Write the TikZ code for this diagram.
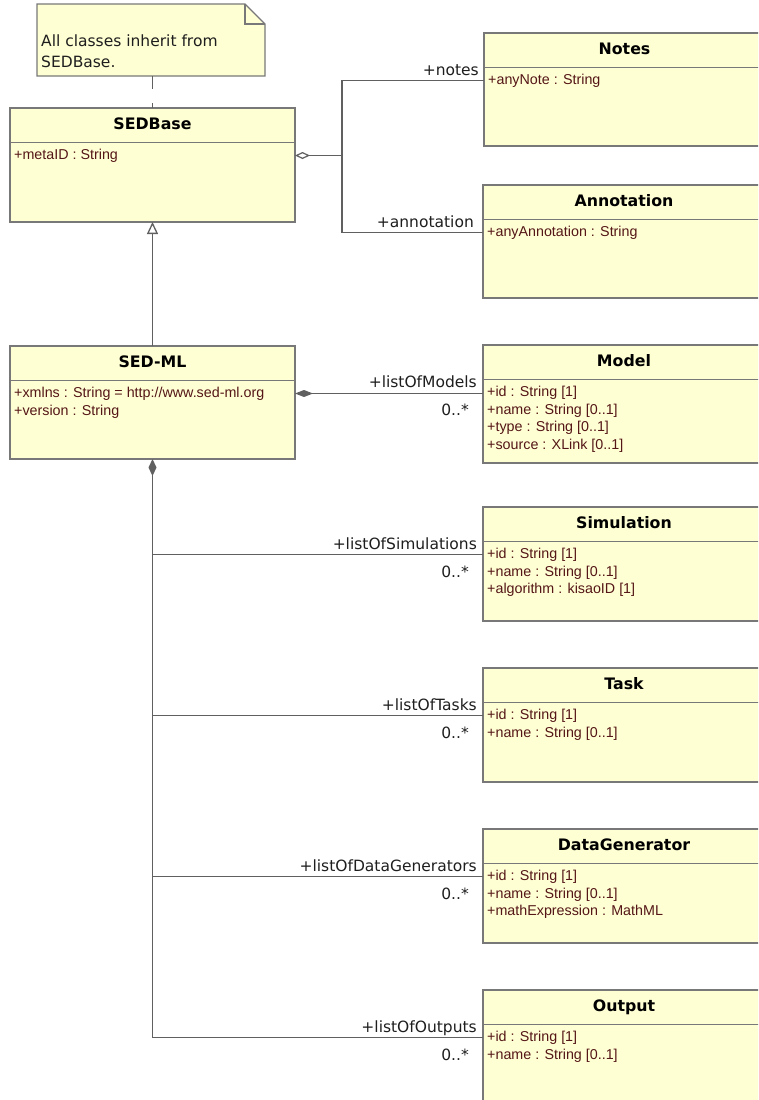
\documentclass[tikz,border=0pt]{standalone}
\usepackage{fontspec}
\setmainfont{DejaVu Sans}
\newfontfamily\attrfont{Liberation Sans}
\usetikzlibrary{arrows.meta,calc}

\definecolor{classfill}{RGB}{255,255,212}
\definecolor{classedge}{RGB}{120,120,120}
\definecolor{wire}{RGB}{96,96,96}
\definecolor{attrink}{RGB}{84,22,22}
\definecolor{labelink}{RGB}{30,30,30}

\tikzset{
  classbox/.style={draw=classedge, fill=classfill, line width=1.3pt, inner sep=0pt, outer sep=0pt},
  titletext/.style={font=\fontsize{15.8}{18}\selectfont\bfseries, inner sep=0pt, anchor=base},
  attrtext/.style={font=\attrfont\fontsize{14.3}{17.4}\selectfont, text=attrink, align=left, inner sep=0pt, anchor=north west},
  rolelabel/.style={font=\fontsize{15.5}{18}\selectfont, text=labelink, inner sep=0pt, anchor=base east},
  wireline/.style={draw=wire, line width=1.5pt},
  notetext/.style={font=\fontsize{15.5}{21}\selectfont, text=labelink, align=left, inner sep=0pt, anchor=north west},
}

% UML class: name, left, top, right, bottom, title, attributes
\newcommand{\umlclass}[7]{%
  \node[classbox, anchor=north west, minimum width={(#4-#2)*1pt}, minimum height={(#5-#3)*1pt}] (#1) at (#2,#3) {};
  \draw[classedge, line width=1.3pt] ($(#1.north west)+(0,34.5)$) -- ($(#1.north east)+(0,34.5)$);
  \node[titletext] (#1-name) at ($(#1.north)+(0,21.5)$) {#6};
  \node[attrtext] (#1-attrs) at ($(#1.north west)+(4,39.5)$) {\strut #7};
  \coordinate (#1-port) at ($(#1.north west)+(0,47.5)$);
  \coordinate (#1-eport) at ($(#1.north east)+(0,47.5)$);
}

% role name above a connector end, multiplicity below it
\newcommand{\roles}[4]{%
  \node[rolelabel] (#1-role) at ($(#2-port)+(#4,-5.5)$) {#3};
}
\newcommand{\multi}[1]{%
  \node[rolelabel] (#1-mult) at ($(#1-port)+(-14,22.5)$) {0..*};
}

\begin{document}
\begin{tikzpicture}[x=1pt,y=-1pt]
\useasboundingbox (0,0) rectangle (758,1100);
\clip (0,0) rectangle (758,1100);

% note with folded corner
\node[minimum width=228pt, minimum height=72pt, inner sep=0pt, outer sep=0pt, anchor=north west] (note) at (37,4) {};
\draw[classedge, fill=classfill, line width=1.3pt, line join=miter]
  (note.north west) -- ($(note.north east)+(-20,0)$) -- ($(note.north east)+(0,20)$)
  -- (note.south east) -- (note.south west) -- cycle;
\draw[classedge, line width=1.3pt]
  ($(note.north east)+(-20,0)$) -- ($(note.north east)+(-20,20)$) -- ($(note.north east)+(0,20)$);
\node[notetext] (note-text) at (41,31.3) {\strut All classes inherit from\\SEDBase.};

% classes
\umlclass{sedbase}{10}{108}{295}{222}{SEDBase}{+metaID : String}
\umlclass{sedml}{10}{346}{295}{459}{SED-ML}{+xmlns : String = http://www.sed-ml.org\\+version : String}
\umlclass{notes}{484}{33}{765}{146}{Notes}{+anyNote : String}
\umlclass{annotation}{483}{185}{765}{298}{Annotation}{+anyAnnotation : String}
\umlclass{model}{483}{345}{765}{463}{Model}{+id : String [1]\\+name : String [0..1]\\+type : String [0..1]\\+source : XLink [0..1]}
\umlclass{simulation}{483}{507}{765}{621}{Simulation}{+id : String [1]\\+name : String [0..1]\\+algorithm : kisaoID [1]}
\umlclass{task}{483}{668}{765}{782}{Task}{+id : String [1]\\+name : String [0..1]}
\umlclass{datagen}{483}{829}{765}{943}{DataGenerator}{+id : String [1]\\+name : String [0..1]\\+mathExpression : MathML}
\umlclass{output}{483}{990}{765}{1120}{Output}{+id : String [1]\\+name : String [0..1]}

% note anchor line
\draw[wireline, line width=1.3pt, dash pattern=on 13pt off 14pt] (sedbase.north |- note.south) -- (sedbase.north);

% generalisation SED-ML -> SEDBase
\draw[wireline, -{Triangle[length=12pt,width=11pt,fill=white,line width=1.3pt]}] (sedml.north) -- (sedbase.south);

% aggregation SEDBase -> Notes / Annotation
\coordinate (aggj) at ($(sedbase-eport)+(47,0)$);
\draw[wireline, {Diamond[length=15pt,width=7pt,fill=white,line width=1.2pt]}-] (sedbase-eport) -- (aggj);
\draw[wireline] (notes-port) -| (aggj) |- (annotation-port);
\roles{notes}{notes}{+notes}{-5}
\roles{annotation}{annotation}{+annotation}{-9}

% composition SED-ML -> Model
\draw[wireline, {Diamond[length=18pt,width=7pt]}-] (sedml-eport) -- (sedml-eport -| model.west);
\roles{model}{model}{+listOfModels}{-6}
\multi{model}

% composition SED-ML -> lists below
\coordinate (spine-end) at (sedml.south |- output-port);
\draw[wireline, {Diamond[length=17pt,width=8pt]}-] (sedml.south) -- (spine-end);
\draw[wireline] (sedml.south |- simulation-port) -- (simulation-port);
\draw[wireline] (sedml.south |- task-port) -- (task-port);
\draw[wireline] (sedml.south |- datagen-port) -- (datagen-port);
\draw[wireline] (spine-end) -- (output-port);

\roles{simulation}{simulation}{+listOfSimulations}{-6}
\multi{simulation}
\roles{task}{task}{+listOfTasks}{-6}
\multi{task}
\roles{datagen}{datagen}{+listOfDataGenerators}{-6}
\multi{datagen}
\roles{output}{output}{+listOfOutputs}{-6}
\multi{output}
\end{tikzpicture}
\end{document}
